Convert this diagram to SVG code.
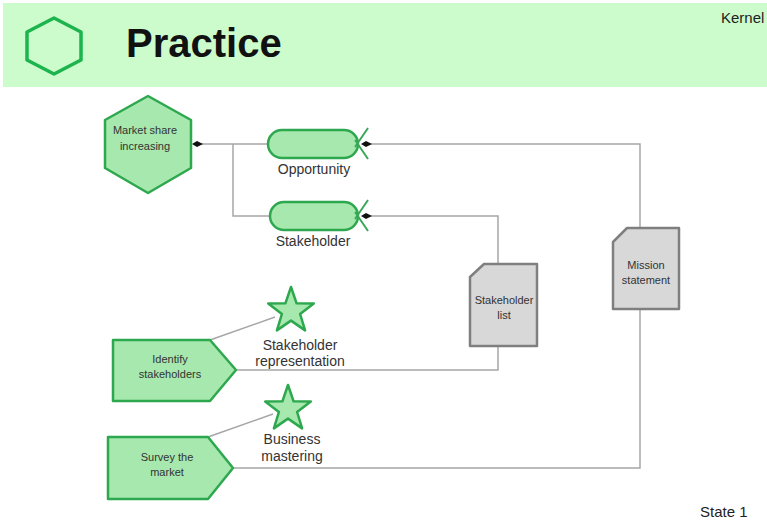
<svg xmlns="http://www.w3.org/2000/svg" width="767" height="522" viewBox="0 0 767 522">
  <defs>
    <style>
      .band { fill: #ccfccc; }
      .title { font-family: "Liberation Sans", Arial, sans-serif; font-weight: bold; font-size: 40px; fill: #111; }
      .small { font-family: "Liberation Sans", Arial, sans-serif; font-size: 15px; fill: #222; }
      .label { font-family: "Liberation Sans", Arial, sans-serif; font-size: 14px; fill: #333; text-anchor: middle; }
      .inner { font-family: "Liberation Sans", Arial, sans-serif; font-size: 11px; fill: #333; text-anchor: middle; }
      .alpha { fill: #a6e8ae; stroke: #2ea84e; stroke-width: 2.5; stroke-linejoin: round; }
      .doc { fill: #d8d8d8; stroke: #7f7f7f; stroke-width: 2.5; stroke-linejoin: round; }
      .wire { fill: none; stroke: #a6a6a6; stroke-width: 1.5; }
      .foot { fill: none; stroke: #3aa85a; stroke-width: 2; }
      .dia { fill: #111; }
    </style>
    <polygon id="star" points="0,-24 5.6,-7.7 22.8,-7.4 9.1,3 14.1,19.4 0,9.6 -14.1,19.4 -9.1,3 -22.8,-7.4 -5.6,-7.7"/>
  </defs>

  <rect width="767" height="522" fill="#ffffff"/>

  <!-- header band -->
  <g id="header">
    <rect class="band" x="3" y="3" width="764" height="84"/>
    <polygon points="54,18 81,32 81,60 54,74 27,60 27,32" fill="none" stroke="#1db44e" stroke-width="3.5" stroke-linejoin="round"/>
    <text class="title" x="126" y="57">Practice</text>
    <text class="small" x="721" y="23">Kernel</text>
  </g>

  <!-- connectors -->
  <g id="connectors">
    <path class="wire" d="M197,144 H268"/>
    <path class="wire" d="M233,144 V216 H270"/>
    <path class="wire" d="M367,144 H640 V228"/>
    <path class="wire" d="M367,216 H498 V264"/>
    <path class="wire" d="M498,346 V370 H236"/>
    <path class="wire" d="M640,309 V468 H233"/>
    <path class="wire" d="M210,340 L275,317"/>
    <path class="wire" d="M208,437 L273,414"/>
    <polygon class="dia" points="192,144 197,141 203,144 197,147"/>
    <polygon class="dia" points="361,144 366,141 372,144 366,147"/>
    <polygon class="dia" points="361,216 366,213 372,216 366,219"/>
  </g>

  <g id="market-share">
    <polygon class="alpha" points="148,96 191,120 191,168 148,193 105,168 105,120"/>
    <text class="inner" x="145" y="134">Market share</text>
    <text class="inner" x="145" y="150">increasing</text>
  </g>

  <g id="opportunity">
    <rect class="alpha" x="268" y="130" width="90" height="28" rx="14"/>
    <path class="foot" d="M368,128 L355,147 M368,159 L355,140"/>
    <text class="label" x="314" y="174">Opportunity</text>
  </g>

  <g id="stakeholder">
    <rect class="alpha" x="270" y="202" width="88" height="28" rx="14"/>
    <path class="foot" d="M368,200 L355,219 M368,231 L355,212"/>
    <text class="label" x="313" y="246">Stakeholder</text>
  </g>

  <g id="stakeholder-list">
    <polygon class="doc" points="484,264 537,264 537,346 470,346 470,277"/>
    <text class="inner" x="504" y="304">Stakeholder</text>
    <text class="inner" x="504" y="319">list</text>
  </g>

  <g id="mission-statement">
    <polygon class="doc" points="627,228 679,228 679,309 613,309 613,242"/>
    <text class="inner" x="646" y="269">Mission</text>
    <text class="inner" x="646" y="284">statement</text>
  </g>

  <g id="identify-stakeholders">
    <polygon class="alpha" points="113,340 210,340 236,370 210,401 113,401"/>
    <text class="inner" x="170" y="363">Identify</text>
    <text class="inner" x="170" y="378">stakeholders</text>
  </g>

  <g id="stakeholder-representation">
    <use href="#star" class="alpha" x="291" y="311"/>
    <text class="label" x="300" y="350">Stakeholder</text>
    <text class="label" x="300" y="366">representation</text>
  </g>

  <g id="survey-market">
    <polygon class="alpha" points="108,437 208,437 233,468 208,499 108,499"/>
    <text class="inner" x="167" y="461">Survey the</text>
    <text class="inner" x="167" y="476">market</text>
  </g>

  <g id="business-mastering">
    <use href="#star" class="alpha" x="288" y="409"/>
    <text class="label" x="292" y="444">Business</text>
    <text class="label" x="292" y="461">mastering</text>
  </g>

  <text class="small" x="700" y="517" font-size="16">State 1</text>
</svg>
